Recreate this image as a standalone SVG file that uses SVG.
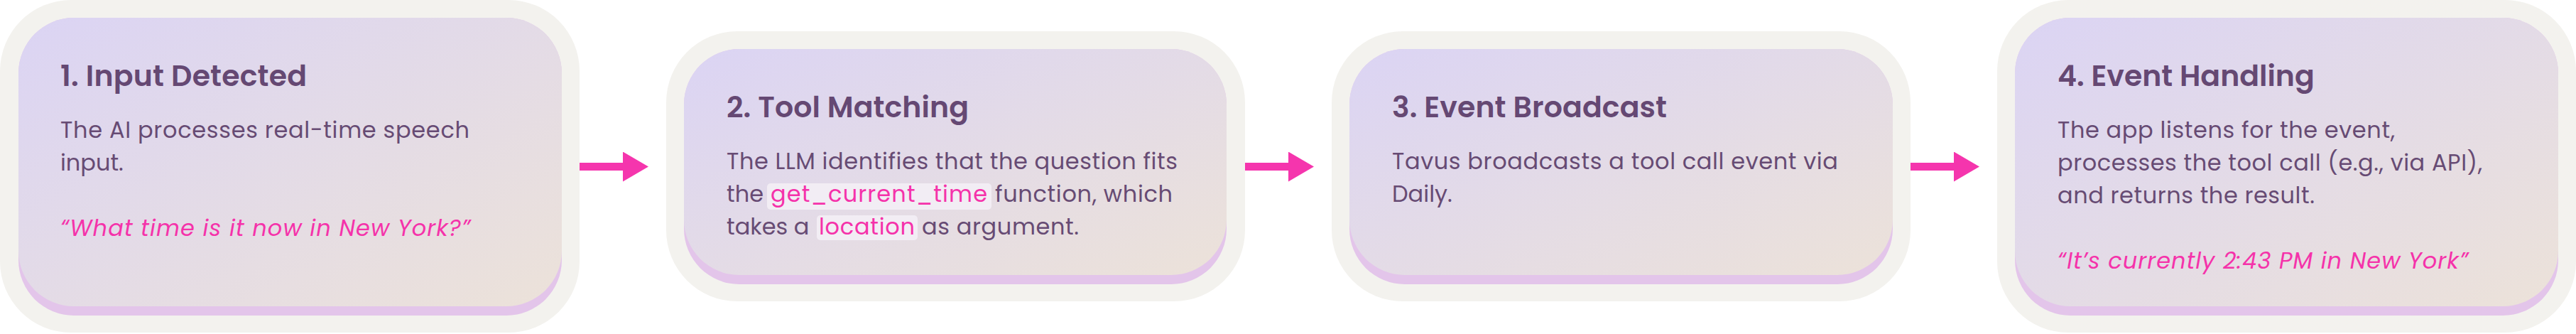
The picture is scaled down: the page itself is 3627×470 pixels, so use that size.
<svg xmlns="http://www.w3.org/2000/svg" width="3627" height="470" viewBox="0 0 3627 470">
  <defs>
    <linearGradient id="cardGrad" x1="0" y1="0" x2="1" y2="1">
      <stop offset="0" stop-color="#dbd4f4"/>
      <stop offset="1" stop-color="#ece2d9"/>
    </linearGradient>
    <marker id="arrowHead" markerUnits="userSpaceOnUse" viewBox="0 0 36 42" markerWidth="36" markerHeight="42" refX="0" refY="21" orient="auto">
      <path d="M0 0 L36 21 L0 42 Z" fill="#f535ad"/>
    </marker>
    <style>
      .outer { fill: #f3f2ee; }
      .shadow { fill: #e3c5ea; }
      .card { fill: url(#cardGrad); }
      .title { font-family: "Poppins", "Open Sans", sans-serif; font-weight: 600; font-size: 41px; fill: #654873; }
      .body { font-family: "Poppins", "Open Sans", sans-serif; font-weight: 400; font-size: 32px; fill: #674b74; }
      .quote { font-family: "Poppins", "Open Sans", sans-serif; font-style: italic; font-size: 32px; fill: #f532aa; }
      .code { fill: #f532aa; }
      .hl { fill: #f2edf4; }
      .conn { stroke: #f535ad; stroke-width: 11; fill: none; marker-end: url(#arrowHead); }
    </style>
  </defs>
  <rect width="3627" height="470" fill="#ffffff"/>

  <g id="node1">
    <rect class="outer" x="0" y="0" width="816" height="468" rx="100"/>
    <rect class="shadow" x="26" y="25" width="765" height="419" rx="78"/>
    <rect class="card" x="26" y="25" width="765" height="406" rx="78"/>
    <text class="title" x="85" y="121" textLength="347">1. Input Detected</text>
    <text class="body" x="85" y="194" textLength="576">The AI processes real-time speech</text>
    <text class="body" x="85" y="240">input.</text>
    <text class="quote" x="85" y="332" textLength="577">“What time is it now in New York?”</text>
  </g>

  <g id="node2">
    <rect class="outer" x="938" y="44" width="815" height="380" rx="100"/>
    <rect class="shadow" x="963" y="69" width="764" height="331" rx="78"/>
    <rect class="card" x="963" y="69" width="764" height="318" rx="78"/>
    <rect class="hl" x="1080" y="258" width="316" height="37" rx="5"/>
    <rect class="hl" x="1150" y="303" width="142" height="35" rx="5"/>
    <text class="title" x="1023" y="165" textLength="341">2. Tool Matching</text>
    <text class="body" x="1023" y="238" textLength="635">The LLM identifies that the question fits</text>
    <text class="body" y="284"><tspan x="1023">the</tspan><tspan class="code" x="1085" textLength="305">get_current_time</tspan><tspan x="1401" textLength="250">function, which</tspan></text>
    <text class="body" y="330"><tspan x="1023">takes a</tspan><tspan class="code" x="1153" textLength="135">location</tspan><tspan x="1298" textLength="221">as argument.</tspan></text>
  </g>

  <g id="node3">
    <rect class="outer" x="1875" y="44" width="815" height="380" rx="100"/>
    <rect class="shadow" x="1900" y="69" width="765" height="331" rx="78"/>
    <rect class="card" x="1900" y="69" width="765" height="318" rx="78"/>
    <text class="title" x="1960" y="165" textLength="387">3. Event Broadcast</text>
    <text class="body" x="1960" y="238" textLength="628">Tavus broadcasts a tool call event via</text>
    <text class="body" x="1960" y="284">Daily.</text>
  </g>

  <g id="node4">
    <rect class="outer" x="2812" y="0" width="815" height="468" rx="100"/>
    <rect class="shadow" x="2837" y="25" width="765" height="419" rx="78"/>
    <rect class="card" x="2837" y="25" width="765" height="406" rx="78"/>
    <text class="title" x="2897" y="121">4. Event Handling</text>
    <text class="body" x="2897" y="194" textLength="475">The app listens for the event,</text>
    <text class="body" x="2897" y="240" textLength="598">processes the tool call (e.g., via API),</text>
    <text class="body" x="2897" y="286" textLength="362">and returns the result.</text>
    <text class="quote" x="2897" y="378" textLength="578">“It’s currently 2:43 PM in New York”</text>
  </g>

  <g id="connectors">
    <line class="conn" x1="816" y1="234.5" x2="877" y2="234.5"/>
    <line class="conn" x1="1753" y1="234.5" x2="1814" y2="234.5"/>
    <line class="conn" x1="2690" y1="234.5" x2="2751" y2="234.5"/>
  </g>
</svg>
